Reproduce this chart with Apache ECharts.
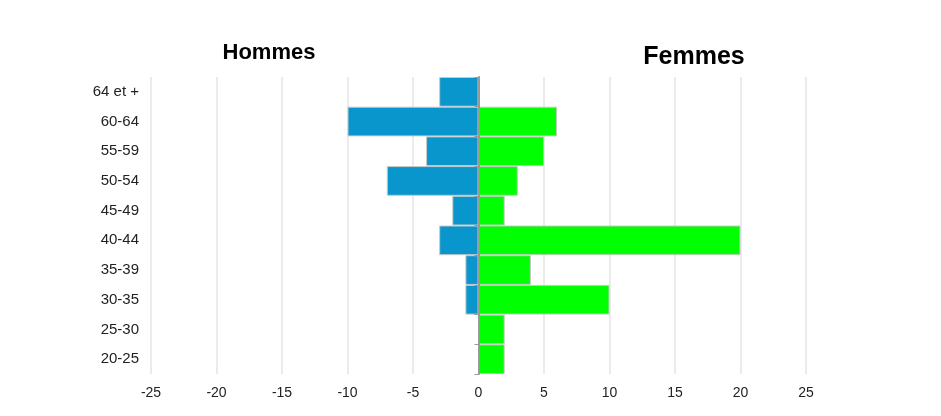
<!DOCTYPE html>
<html>
<head>
<meta charset="utf-8">
<script src="https://cdn.jsdelivr.net/npm/echarts@6/dist/echarts.min.js"></script>
<style>
  html, body { margin: 0; padding: 0; background: #fff; }
  #chart { width: 941px; height: 416px; }
</style>
</head>
<body>
<div id="chart"></div>
<script>
// tranches d'âge, du bas vers le haut
const ageGroups = ['20-25', '25-30', '30-35', '35-39', '40-44', '45-49', '50-54', '55-59', '60-64', '64 et +']
const hommes = [0, 0, -1, -1, -3, -2, -7, -4, -10, -3]
const femmes = [2, 2, 10, 4, 20, 2, 3, 5, 6, 0]
const xTicks = [-25, 25, 5] // min, max, interval

let chart = echarts.init(document.getElementById('chart'))
let option = {
  animation: false,
  textStyle: { fontFamily: 'Liberation Sans, Arial, sans-serif' },
  title: [
    {
      text: 'Hommes',
      left: 264,
      top: 37,
      textAlign: 'center',
      textStyle: { fontSize: 22, fontWeight: 'bold', color: '#000' }
    },
    {
      text: 'Femmes',
      left: 689,
      top: 40,
      textAlign: 'center',
      textStyle: { fontSize: 25, fontWeight: 'bold', color: '#000' }
    }
  ],
  grid: { left: 151, right: 135, top: 77, bottom: 42, containLabel: false },
  xAxis: {
    type: 'value',
    min: xTicks[0],
    max: xTicks[1],
    interval: xTicks[2],
    axisLine: { show: false },
    axisTick: { show: false },
    axisLabel: { color: '#222', fontSize: 14, margin: 12 },
    splitLine: { lineStyle: { color: '#ebebeb', width: 2 } }
  },
  yAxis: [
    {
      // axe au zéro, ligne seule
      type: 'category',
      data: ageGroups,
      axisLine: { onZero: true, lineStyle: { color: '#999', width: 2 } },
      axisTick: { show: true, length: 4, lineStyle: { color: '#999' } },
      axisLabel: { show: false },
      z: 5
    },
    {
      // libellés à gauche
      type: 'category',
      data: ageGroups,
      position: 'left',
      axisLine: { show: false, onZero: false },
      axisTick: { show: false },
      axisLabel: { color: '#222', fontSize: 15, margin: 12, padding: [3, 0, 0, 0] }
    }
  ],
  series: [
    {
      name: 'Hommes',
      type: 'bar',
      data: hommes,
      barGap: '-100%',
      barCategoryGap: 0,
      itemStyle: { color: '#0896CC', borderColor: '#c8c8c8', borderWidth: 1 }
    },
    {
      name: 'Femmes',
      type: 'bar',
      data: femmes,
      barGap: '-100%',
      barCategoryGap: 0,
      itemStyle: { color: '#00FF00', borderColor: '#c8c8c8', borderWidth: 1 }
    }
  ]
}
chart.setOption(option)
</script>
</body>
</html>
